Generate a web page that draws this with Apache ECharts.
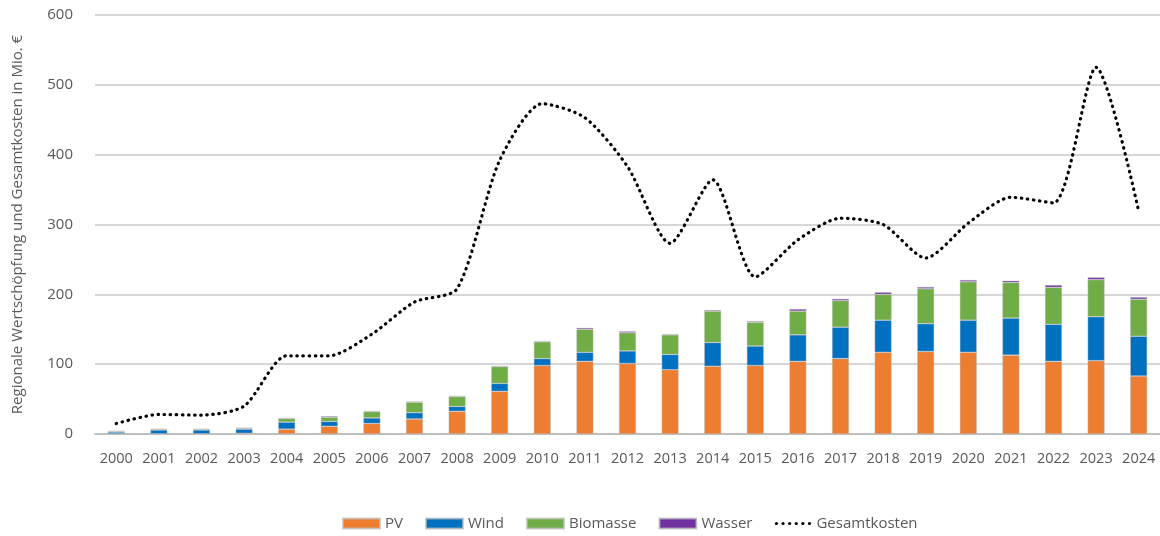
<!DOCTYPE html>
<html>
<head>
<meta charset="utf-8">
<script src="https://cdn.jsdelivr.net/npm/echarts@6/dist/echarts.min.js"></script>
<style>
html,body{margin:0;padding:0;background:#fff;}
#chart{width:1160px;height:536px;}
</style>
</head>
<body>
<div id="chart"></div>
<script>
var years = ['2000','2001','2002','2003','2004','2005','2006','2007','2008','2009','2010','2011','2012','2013','2014','2015','2016','2017','2018','2019','2020','2021','2022','2023','2024'];
var pv = [0.3,0.3,0.3,1,7,11,15,21.5,32.5,61,98,104,101,92,97,98,104,108,117,118,117,113,104,105,83];
var wind = [2.5,5.5,5.5,6,10,7,8,9,7,11.5,10,13,18,22,34,28,38,45,46,40,46,53,53,63,57];
var biomasse = [1,1,1,1,5,6,9,15,14,24,24,33,26,28,45,34,34,38,37,50,55,51,53,53,53];
var wasser = [0.5,0.5,0.5,1,1,1.5,1,1,1,1,1,2,2,1,1.5,1.5,3,2.5,3,2.5,2.5,2.5,3.3,3.3,3];
var gesamtkosten = [15,28,27,40,112,112,143,189,208,392,473,453,383,273,364,225,278,309,300,252,302,339,331,525,319];
var yTicks = [0,100,200,300,400,500,600];

var chart = echarts.init(document.getElementById('chart'), null, {renderer:'canvas'});
var font = '"Open Sans", "Liberation Sans", sans-serif';
var textColor = '#595959';
var dotsSvg = '<svg xmlns="http://www.w3.org/2000/svg" width="37" height="10" viewBox="0 0 37 10">' +
  [2, 8.6, 15.2, 21.8, 28.4, 35].map(function(cx){ return '<circle cx="' + cx + '" cy="5" r="1.6" fill="#000"/>'; }).join('') +
  '</svg>';
var dotsIcon = 'image://data:image/svg+xml;charset=utf-8,' + encodeURIComponent(dotsSvg);

function bar(name, data, color){
  return {
    name:name, type:'bar', stack:'total', data:data, barWidth:17,
    itemStyle:{color:color, borderColor:'rgba(190,190,190,0.7)', borderWidth:0.6},
    emphasis:{disabled:true}
  };
}
chart.setOption({
  animation:false,
  textStyle:{fontFamily:font},
  grid:{left:95, right:0, top:15, bottom:102, containLabel:false},
  legend:{
    left:337, top:511, itemWidth:37, itemHeight:10, itemGap:22,
    textStyle:{color:textColor, fontSize:15, fontFamily:font},
    data:[
      {name:'PV', icon:'rect'},
      {name:'Wind', icon:'rect'},
      {name:'Biomasse', icon:'rect'},
      {name:'Wasser', icon:'rect'},
      {name:'Gesamtkosten', icon:dotsIcon}
    ]
  },
  xAxis:{
    type:'category', data:years, boundaryGap:true,
    axisLine:{lineStyle:{color:'#bfbfbf', width:2}},
    axisTick:{show:false},
    axisLabel:{color:textColor, fontSize:14.5, margin:17, interval:0, fontFamily:font}
  },
  yAxis:{
    type:'value', min:yTicks[0], max:yTicks[yTicks.length-1], interval:100,
    name:'Regionale Wertschöpfung und Gesamtkosten in Mio. €',
    nameLocation:'middle', nameGap:70, nameRotate:90,
    nameTextStyle:{color:textColor, fontSize:15, fontFamily:font},
    axisLine:{show:false}, axisTick:{show:false},
    axisLabel:{color:textColor, fontSize:15, margin:22, fontFamily:font},
    splitLine:{lineStyle:{color:'#c9c9c9', width:1.5}}
  },
  series:[
    bar('PV', pv, '#ED7D31'),
    bar('Wind', wind, '#0070C0'),
    bar('Biomasse', biomasse, '#70AD47'),
    bar('Wasser', wasser, '#7030A0'),
    {
      name:'Gesamtkosten', type:'line', data:gesamtkosten, smooth:0.25,
      symbol:'none', showSymbol:false,
      itemStyle:{color:'#000'},
      lineStyle:{color:'#000', width:3.2, type:[0.5,5.6], cap:'round'},
      emphasis:{disabled:true},
      z:5
    }
  ]
});
</script>
</body>
</html>
